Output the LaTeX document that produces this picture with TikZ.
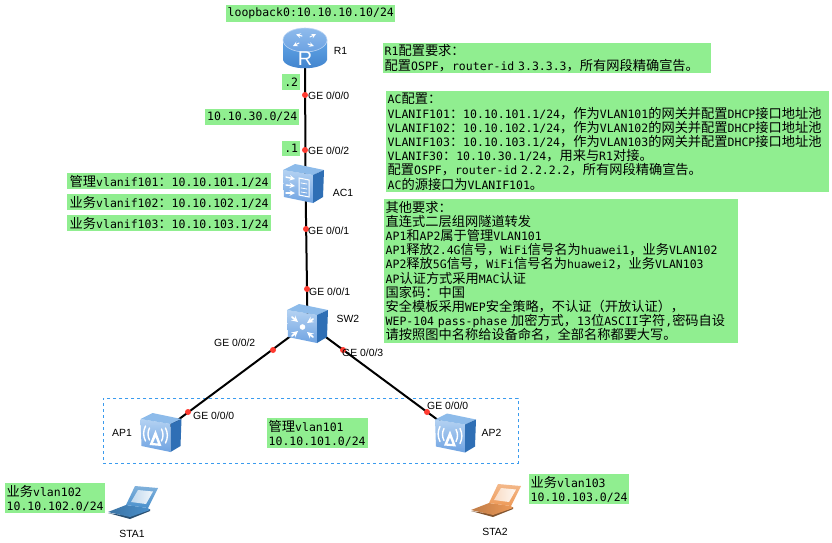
\documentclass[tikz,border=0pt]{standalone}
\usepackage{fontspec}
\setmainfont{Liberation Sans}
\setmonofont{DejaVu Sans Mono}
\newfontfamily\cjk[Scale=1.15]{Noto Sans CJK SC}
\newcommand{\Zh}[1]{{\cjk #1}}
\definecolor{boxgreen}{HTML}{90EE90}
\definecolor{dashblue}{HTML}{3A9BEE}
\definecolor{dotred}{HTML}{FF3B30}
\definecolor{facetop}{HTML}{B4D2F2}
\definecolor{facebot}{HTML}{6FA3E2}
\definecolor{boxtop}{HTML}{8DBBEA}
\definecolor{boxside}{HTML}{2F6FB5}
\definecolor{stablue}{HTML}{4A90CC}
\definecolor{staorange}{HTML}{EE9A58}
\definecolor{rtop}{HTML}{8FBBEC}
\definecolor{rtopb}{HTML}{6BA2E2}
\definecolor{rbody}{HTML}{62A4E6}
\definecolor{rbodyb}{HTML}{3F82CC}
\tikzset{
  greenbox/.style={fill=boxgreen,anchor=north west,inner xsep=1.5pt,inner ysep=0pt,align=left,
    font=\ttfamily\fontsize{11.5}{14.2}\selectfont},
  devlabel/.style={font=\fontsize{10.4}{12}\selectfont,text=black,inner sep=0pt},
  portlabel/.style={devlabel,anchor=west},
  iconbox/.style={inner sep=0pt,rectangle},
  link/.style={draw=black,line width=2pt},
  portdot/.style={circle,fill=dotred,inner sep=0pt,minimum size=6pt},
  glyph/.style={draw=white,line width=1.4pt,line cap=round},
  glyphtip/.style={glyph,->,>=stealth},
  boxshell/.pic={
    \shade[top color=facetop,bottom color=facebot] (0,6)--(30,11)--(30,39)--(1,33)--cycle;
    \fill[boxtop] (0,6)--(12,0)--(41,6)--(30,11)--cycle;
    \fill[boxside] (30,11)--(41,6)--(40,33)--(30,39)--cycle;
  },
  acicon/.pic={
    \pic {boxshell};
    \draw[glyphtip] (3,13)--(12,15);
    \draw[glyphtip] (3,21)--(12,22);
    \draw[glyphtip] (3,29)--(12,29);
    \draw[glyph,line width=1pt] (16,14)--(26,16)--(26,33)--(16,31)--cycle;
    \draw[glyph,line width=.8pt] (18,19)--(24,20) (18,24)--(24,25) (18,28)--(24,29);
  },
  swicon/.pic={
    \pic {boxshell};
    \fill[white] (15.5,23) circle (2.8);
    \draw[glyphtip,line width=1.8pt] (5,13)--(11,18);
    \draw[glyphtip,line width=1.8pt] (26,15)--(20,19);
    \draw[glyphtip,line width=1.8pt] (5,32)--(11,27);
    \draw[glyphtip,line width=1.8pt] (26,33)--(20,28);
  },
  apicon/.pic={
    \pic {boxshell};
    \fill[white,even odd rule] (15,17)--(21,33)--(9,32)--cycle (15,24)--(17.5,30.5)--(12.5,30)--cycle;
    \draw[glyph] (9,15) .. controls (7,19) and (7,23) .. (9,27);
    \draw[glyph] (5,13) .. controls (2.5,18) and (2.5,23) .. (5,28);
    \draw[glyph] (21,16) .. controls (23,20) and (23,24) .. (21,28);
    \draw[glyph] (25,15) .. controls (27.5,20) and (27.5,25) .. (25,30);
  },
  laptop/.pic={
    \fill[#1!55!black] (0,27)--(22,33)--(42,25)--(42,23)--(22,30)--cycle;
    \shade[left color=#1!80!black,right color=#1] (0,26)--(18,19)--(40,22)--(42,24)--(22,31)--cycle;
    \shade[top color=#1!70!white,bottom color=#1] (27,0)--(50,2)--(40,22)--(18,19)--cycle;
    \shade[left color=#1!35!white,right color=#1!8!white] (30,4)--(45,5.5)--(38,18)--(23,16)--cycle;
  },
}
\begin{document}
\begin{tikzpicture}[x=1pt,y=-1pt]
\useasboundingbox (0,0) rectangle (832,542);
\fill[white] (0,0) rectangle (832,542);

% device anchors
\node[iconbox,minimum width=44pt,minimum height=40pt] (R1) at (305,48) {};
\node[iconbox,minimum width=41pt,minimum height=39pt] (AC1) at (305.5,183.5) {};
\node[iconbox,minimum width=41pt,minimum height=39pt] (SW2) at (307.5,323.5) {};
\node[iconbox,minimum width=41pt,minimum height=39pt] (AP1) at (161,432.5) {};
\node[iconbox,minimum width=41pt,minimum height=39pt] (AP2) at (455.5,433) {};
\node[iconbox,minimum width=50pt,minimum height=31pt] (STA1) at (133,501.5) {};
\node[iconbox,minimum width=48pt,minimum height=35pt] (STA2) at (495,500.5) {};

% VLAN101 area
\node[draw=dashblue,dashed,line width=.9pt,inner sep=0pt,minimum width=415pt,minimum height=65pt,anchor=north west] (area) at (103,398) {};

% links
\draw[link] (R1.center) -- (AC1.center);
\draw[link] (AC1.center) -- (SW2.center);
\draw[link] (SW2.center) -- (AP1.center);
\draw[link] (SW2.center) -- (AP2.center);

% port dots
\node[portdot] (p1) at (305,95) {};
\node[portdot] (p2) at (305,150) {};
\node[portdot] (p3) at (306,229) {};
\node[portdot] (p4) at (307,289) {};
\node[portdot] (p5) at (273,350) {};
\node[portdot] (p6) at (343,350) {};
\node[portdot] (p7) at (188,412) {};
\node[portdot] (p8) at (427,412) {};

% icons
\begin{scope}[shift={(283,28)}]
  \shade[top color=rbody,bottom color=rbodyb] (0,12)--(0,32) .. controls (4,43) and (40,43) .. (44,32) -- (44,12) --cycle;
  \shade[top color=rtop,bottom color=rtopb,draw=rtop!60!white,line width=.6pt] (22,12) ellipse (22 and 12);
  \draw[glyphtip,line width=1.1pt] (16,15)--(10,18);
  \draw[glyphtip,line width=1.1pt] (19,8)--(13,6.5);
  \draw[glyphtip,line width=1.1pt] (25,16)--(31,18);
  \draw[glyphtip,line width=1.1pt] (27,9)--(33,6);
  \node[text=white,font=\fontsize{20}{22}\selectfont,inner sep=0pt] (Rglyph) at (22,30.5) {R};
\end{scope}
\pic at (283,164) {acicon};
\pic at (287,304) {swicon};
\pic at (140.5,413) {apicon};
\pic at (435,413.5) {apicon};
\pic at (108,486) {laptop=stablue};
\pic at (471,484) {laptop=staorange};

% device labels
\node[devlabel] (lR1) at (340.5,51) {R1};
\node[devlabel] (lAC1) at (343,193) {AC1};
\node[devlabel] (lSW2) at (348,319) {SW2};
\node[devlabel] (lAP1) at (122,433) {AP1};
\node[devlabel] (lAP2) at (491.5,433) {AP2};
\node[devlabel] (lSTA1) at (132,534) {STA1};
\node[devlabel] (lSTA2) at (495,532) {STA2};

% port labels
\node[portlabel] (g1) at (308,96) {GE 0/0/0};
\node[portlabel] (g2) at (308,151) {GE 0/0/2};
\node[portlabel] (g3) at (308,231) {GE 0/0/1};
\node[portlabel] (g4) at (309,292) {GE 0/0/1};
\node[portlabel] (g5) at (214,343) {GE 0/0/2};
\node[portlabel] (g6) at (342,353) {GE 0/0/3};
\node[portlabel] (g7) at (193,416) {GE 0/0/0};
\node[portlabel] (g8) at (427,406) {GE 0/0/0};

% green notes
\node[greenbox,minimum width=169pt,minimum height=17pt] (tloop) at (226,5) {loopback0:10.10.10.10/24};
\node[greenbox,minimum width=18pt,minimum height=16pt] (t2) at (282,74) {.2};
\node[greenbox,minimum width=94pt,minimum height=16pt] (t30) at (205,109) {10.10.30.0/24};
\node[greenbox,minimum width=18pt,minimum height=15pt] (t1) at (282,141) {.1};
\node[greenbox,minimum width=204pt,minimum height=16pt] (tv1) at (67,173) {\Zh{管理}vlanif101\Zh{：}10.10.101.1/24};
\node[greenbox,minimum width=204pt,minimum height=16pt] (tv2) at (67,194) {\Zh{业务}vlanif102\Zh{：}10.10.102.1/24};
\node[greenbox,minimum width=204pt,minimum height=16pt] (tv3) at (67,215) {\Zh{业务}vlanif103\Zh{：}10.10.103.1/24};
\node[greenbox,text width=325pt,minimum height=30pt] (tR) at (383,43) {R1\Zh{配置要求：}\\
\Zh{配置}OSPF\Zh{，}router-id 3.3.3.3\Zh{，所有网段精确宣告。}};
\node[greenbox,text width=440pt,minimum height=101pt] (tAC) at (386,91) {AC\Zh{配置：}\\
VLANIF101\Zh{：}10.10.101.1/24\Zh{，作为}VLAN101\Zh{的网关并配置}DHCP\Zh{接口地址池}\\
VLANIF102\Zh{：}10.10.102.1/24\Zh{，作为}VLAN102\Zh{的网关并配置}DHCP\Zh{接口地址池}\\
VLANIF103\Zh{：}10.10.103.1/24\Zh{，作为}VLAN103\Zh{的网关并配置}DHCP\Zh{接口地址池}\\
VLANIF30\Zh{：}10.10.30.1/24\Zh{，用来与}R1\Zh{对接。}\\
\Zh{配置}OSPF\Zh{，}router-id 2.2.2.2\Zh{，所有网段精确宣告。}\\
AC\Zh{的源接口为}VLANIF101\Zh{。}};
\node[greenbox,text width=351pt,minimum height=144pt] (tO) at (384,199) {\Zh{其他要求：}\\
\Zh{直连式二层组网隧道转发}\\
AP1\Zh{和}AP2\Zh{属于管理}VLAN101\\
AP1\Zh{释放}2.4G\Zh{信号，}WiFi\Zh{信号名为}huawei1\Zh{，业务}VLAN102\\
AP2\Zh{释放}5G\Zh{信号，}WiFi\Zh{信号名为}huawei2\Zh{，业务}VLAN103\\
AP\Zh{认证方式采用}MAC\Zh{认证}\\
\Zh{国家码：中国}\\
\Zh{安全模板采用}WEP\Zh{安全策略，不认证（开放认证），}\\
WEP-104 pass-phase \Zh{加密方式，}13\Zh{位}ASCII\Zh{字符},\Zh{密码自设}\\
\Zh{请按照图中名称给设备命名，全部名称都要大写。}};
\node[greenbox,text width=98pt,minimum height=30pt] (tm) at (267,418) {\Zh{管理}vlan101\\10.10.101.0/24};
\node[greenbox,text width=97pt,minimum height=30pt] (tb2) at (5,483) {\Zh{业务}vlan102\\10.10.102.0/24};
\node[greenbox,text width=97pt,minimum height=30pt] (tb3) at (529,474) {\Zh{业务}vlan103\\10.10.103.0/24};
\end{tikzpicture}
\end{document}
